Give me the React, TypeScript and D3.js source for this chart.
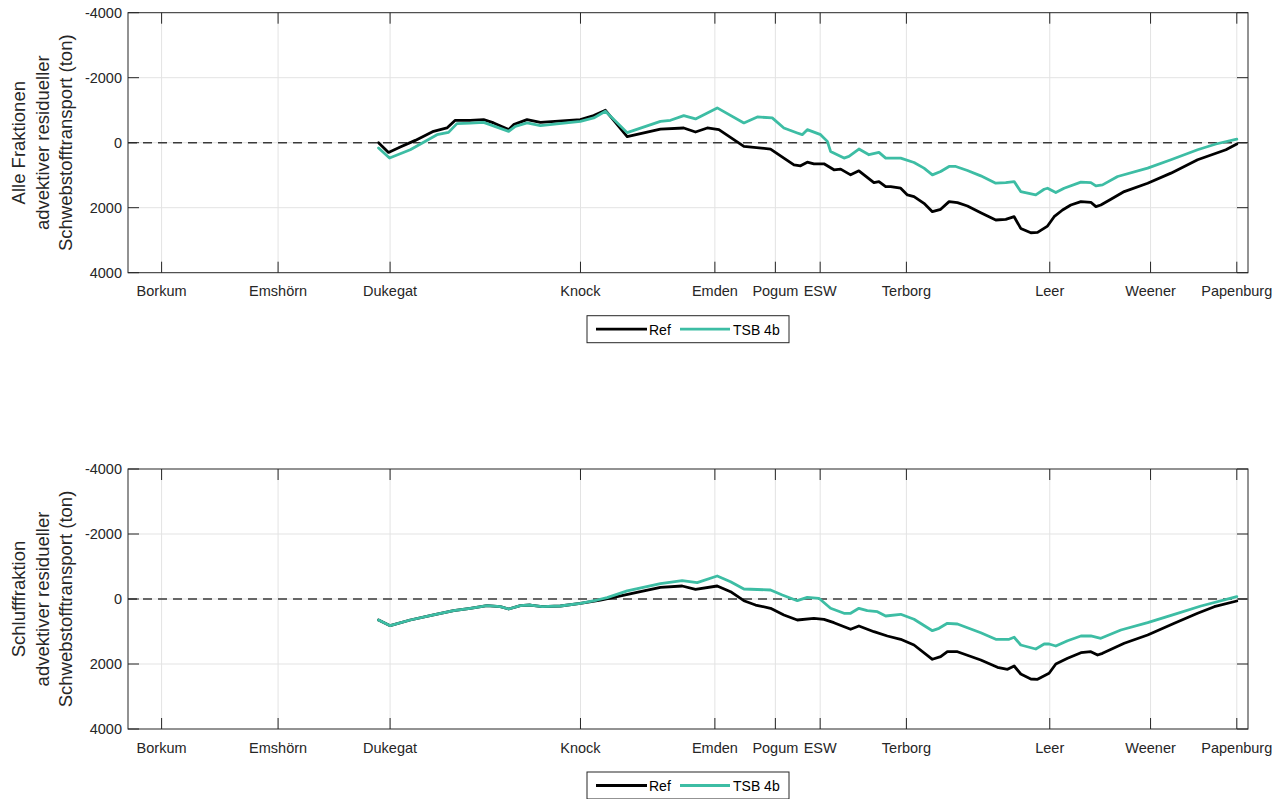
import React from "react";
import * as d3 from "d3";

// Station names and positions along the estuary (km, 0 = left edge of axis)
const stationNames = ["Borkum", "Emshörn", "Dukegat", "Knock", "Emden", "Pogum", "ESW", "Terborg", "Leer", "Weener", "Papenburg"];
const stationKm = [3.0, 13.4, 23.4, 40.4, 52.4, 57.8, 61.8, 69.5, 82.3, 91.3, 99.0];

const yTicks = [-4000, -2000, 0, 2000, 4000];
const yDomain: [number, number] = [-4000, 4000];
const xDomain: [number, number] = [0, 100];

const seriesNames = ["Ref", "TSB 4b"];
const seriesColors = ["#000000", "#3dbda4"];

// Panel 1: Alle Fraktionen
const allRef: [number, number][] = [
  [22.37, 0], [23.26, 300], [24.31, 133], [25.65, -71], [27.28, -350], [28.48, -453], [29.22, -690],
  [30.56, -690], [31.75, -710], [32.65, -608], [33.99, -402], [34.43, -556], [35.63, -710], [36.82, -627],
  [40.39, -710], [41.58, -834], [42.63, -998], [44.57, -185], [47.54, -420], [49.62, -453], [50.67, -330],
  [51.72, -453], [52.76, -402], [54.99, 113], [57.37, 195], [58.56, 473], [59.46, 680], [60.05, 711],
  [60.65, 600], [61.24, 649], [62.14, 649], [63.03, 834], [63.63, 813], [64.52, 989], [65.26, 865],
  [66.6, 1226], [67.05, 1195], [67.65, 1350], [68.1, 1350], [68.99, 1401], [69.59, 1607], [70.18, 1659],
  [71.07, 1865], [71.82, 2122], [72.56, 2050], [73.31, 1813], [74.06, 1845], [74.95, 1947], [76.14, 2153],
  [77.48, 2379], [78.37, 2359], [79.12, 2277], [79.71, 2638], [80.61, 2771], [81.21, 2761], [82.1, 2565],
  [82.69, 2277], [83.44, 2070], [84.18, 1916], [85.08, 1813], [85.97, 1834], [86.42, 1968], [86.86, 1916],
  [87.76, 1741], [88.95, 1504], [91.04, 1246], [93.12, 937], [95.5, 525], [98.03, 216], [99.0, 40],
];
const allTsb: [number, number][] = [
  [22.37, 164], [23.35, 473], [25.2, 216], [27.59, -247], [28.62, -318], [29.37, -587], [30.56, -600],
  [31.75, -627], [33.99, -350], [34.58, -504], [35.63, -608], [36.82, -525], [40.39, -658], [41.58, -762],
  [42.63, -967], [44.57, -310], [47.54, -658], [48.44, -690], [49.62, -834], [50.67, -732], [52.61, -1071],
  [54.99, -608], [56.19, -793], [57.52, -762], [58.56, -453], [59.76, -300], [60.2, -247], [60.65, -402],
  [61.84, -247], [62.44, -41], [62.73, 268], [63.93, 473], [64.37, 422], [65.26, 195], [66.16, 370],
  [67.05, 298], [67.65, 473], [68.99, 473], [70.18, 608], [71.07, 782], [71.82, 989], [72.56, 886],
  [73.31, 731], [73.91, 731], [74.95, 855], [76.14, 1020], [77.48, 1246], [78.37, 1226], [79.12, 1195],
  [79.71, 1504], [81.05, 1607], [81.8, 1432], [82.1, 1401], [82.84, 1535], [83.58, 1401], [85.08, 1215],
  [85.97, 1226], [86.42, 1329], [87.01, 1298], [88.36, 1040], [91.04, 782], [93.12, 525], [95.5, 216],
  [97.14, 40], [99.0, -107],
];

// Panel 2: Schlufffraktion
const siltRef: [number, number][] = [
  [22.37, 646], [23.41, 821], [25.2, 646], [27.28, 492], [29.07, 360], [30.56, 286], [32.05, 206],
  [33.24, 236], [33.99, 308], [35.03, 206], [35.92, 185], [36.97, 236], [38.61, 215], [40.39, 132],
  [42.18, 31], [43.37, -52], [45.75, -225], [47.54, -360], [49.48, -400], [50.67, -298], [52.61, -400],
  [53.8, -225], [54.99, 52], [56.03, 185], [57.37, 286], [58.56, 492], [59.76, 646], [61.24, 594],
  [62.14, 625], [63.03, 729], [64.52, 932], [65.26, 831], [66.6, 1006], [67.8, 1138], [68.99, 1240],
  [70.18, 1415], [71.82, 1855], [72.56, 1775], [73.16, 1622], [74.06, 1622], [76.14, 1877], [77.63, 2102],
  [78.53, 2163], [79.12, 2062], [79.71, 2308], [80.61, 2462], [81.21, 2471], [82.24, 2286], [82.84, 2000],
  [83.89, 1825], [85.08, 1652], [85.97, 1622], [86.57, 1723], [87.01, 1671], [88.95, 1363], [91.04, 1108],
  [93.42, 748], [95.5, 440], [96.99, 237], [99.0, 62],
];
const siltTsb: [number, number][] = [
  [22.37, 646], [23.41, 821], [25.2, 646], [27.28, 492], [29.07, 360], [30.56, 286], [32.05, 206],
  [33.24, 236], [33.99, 308], [35.03, 206], [35.92, 185], [36.97, 236], [38.61, 215], [40.39, 132],
  [41.88, 31], [42.78, -40], [44.57, -250], [47.54, -470], [49.48, -563], [50.82, -502], [52.61, -708],
  [53.8, -532], [54.99, -308], [57.37, -277], [58.42, -123], [59.76, 52], [60.65, -52], [61.69, -22],
  [62.73, 286], [63.93, 440], [64.52, 440], [65.26, 286], [66.01, 360], [66.91, 391], [67.65, 523],
  [68.99, 471], [70.18, 625], [71.82, 975], [72.41, 902], [73.16, 748], [74.06, 769], [76.14, 1037],
  [77.48, 1240], [78.67, 1240], [79.12, 1178], [79.71, 1415], [81.05, 1538], [81.8, 1385], [82.24, 1385],
  [82.84, 1446], [83.89, 1283], [85.08, 1138], [85.97, 1138], [86.86, 1209], [88.65, 954], [91.04, 729],
  [93.42, 471], [95.8, 215], [99.0, -71],
];

const allLabel = ["Alle Fraktionen", "advektiver residueller", "Schwebstofftransport (ton)"];
const siltLabel = ["Schlufffraktion", "advektiver residueller", "Schwebstofftransport (ton)"];

const FONT = "'Liberation Sans', Arial, Helvetica, sans-serif";
const AX = "#262626";
const GRID = "#e3e3e3";

const LEFT = 128;
const RIGHT = 1248;
const TICK = 11;

function Panel({ top, bottom, label, ref1, ref2 }: { top: number; bottom: number; label: string[]; ref1: [number, number][]; ref2: [number, number][] }) {
  const x = d3.scaleLinear().domain(xDomain).range([LEFT, RIGHT]);
  const y = d3.scaleLinear().domain(yDomain).range([top, bottom]);
  const line = d3
    .line<[number, number]>()
    .x((d) => x(d[0]))
    .y((d) => y(d[1]));
  const series = [ref1, ref2];
  const cy = (top + bottom) / 2;
  const labelX = [18, 42, 65];
  const legTop = bottom + 43;
  const legLeft = 587;
  return (
    <g>
      {/* grid */}
      {stationKm.map((k, i) => (
        <line key={"gx" + i} x1={x(k)} x2={x(k)} y1={top} y2={bottom} stroke={GRID} strokeWidth={1} />
      ))}
      {yTicks.slice(1, -1).map((t) => (
        <line key={"gy" + t} x1={LEFT} x2={RIGHT} y1={y(t)} y2={y(t)} stroke={GRID} strokeWidth={1} />
      ))}
      {/* zero dashed */}
      <line x1={LEFT} x2={RIGHT} y1={y(0)} y2={y(0)} stroke="#3a3a3a" strokeWidth={1.5} strokeDasharray="9,6" />
      {/* data */}
      {series.map((s, i) => (
        <path key={"s" + i} d={line(s) || ""} fill="none" stroke={seriesColors[i]} strokeWidth={2.8} strokeLinejoin="round" strokeLinecap="round" />
      ))}
      {/* box */}
      <rect x={LEFT} y={top} width={RIGHT - LEFT} height={bottom - top} fill="none" stroke={AX} strokeWidth={1} />
      {/* x ticks */}
      {stationKm.map((k, i) => (
        <g key={"xt" + i}>
          <line x1={x(k)} x2={x(k)} y1={bottom} y2={bottom - TICK} stroke={AX} strokeWidth={1} />
          <line x1={x(k)} x2={x(k)} y1={top} y2={top + TICK} stroke={AX} strokeWidth={1} />
          <text x={x(k)} y={bottom + 18.5} textAnchor="middle" dominantBaseline="central" fontSize={14.5} fill={AX} fontFamily={FONT}>
            {stationNames[i]}
          </text>
        </g>
      ))}
      {/* y ticks */}
      {yTicks.map((t) => (
        <g key={"yt" + t}>
          <line x1={LEFT} x2={LEFT + TICK} y1={y(t)} y2={y(t)} stroke={AX} strokeWidth={1} />
          <line x1={RIGHT} x2={RIGHT - TICK} y1={y(t)} y2={y(t)} stroke={AX} strokeWidth={1} />
          <text x={122} y={y(t)} textAnchor="end" dominantBaseline="central" fontSize={14.5} fill={AX} fontFamily={FONT}>
            {t}
          </text>
        </g>
      ))}
      {/* y label */}
      {label.map((l, i) => (
        <text key={"yl" + i} transform={`translate(${labelX[i]},${cy}) rotate(-90)`} textAnchor="middle" dominantBaseline="central" fontSize={18.5} fill={AX} fontFamily={FONT}>
          {l}
        </text>
      ))}
      {/* legend */}
      <rect x={legLeft} y={legTop} width={202} height={27} fill="#fff" stroke={AX} strokeWidth={1} />
      <line x1={596} x2={647} y1={legTop + 13.5} y2={legTop + 13.5} stroke={seriesColors[0]} strokeWidth={2.8} />
      <text x={649} y={legTop + 14} dominantBaseline="central" fontSize={14} fill="#000" fontFamily={FONT}>
        {seriesNames[0]}
      </text>
      <line x1={680} x2={730} y1={legTop + 13.5} y2={legTop + 13.5} stroke={seriesColors[1]} strokeWidth={2.8} />
      <text x={733} y={legTop + 14} dominantBaseline="central" fontSize={14} fill="#000" fontFamily={FONT}>
        {seriesNames[1]}
      </text>
    </g>
  );
}

export default function App() {
  return (
    <svg width={1287} height={799} style={{ position: "absolute", left: 0, top: 0, background: "#fff" }}>
      <rect x={0} y={0} width={1287} height={799} fill="#fff" />
      <Panel top={12.7} bottom={272.7} label={allLabel} ref1={allRef} ref2={allTsb} />
      <Panel top={469} bottom={729} label={siltLabel} ref1={siltRef} ref2={siltTsb} />
    </svg>
  );
}
